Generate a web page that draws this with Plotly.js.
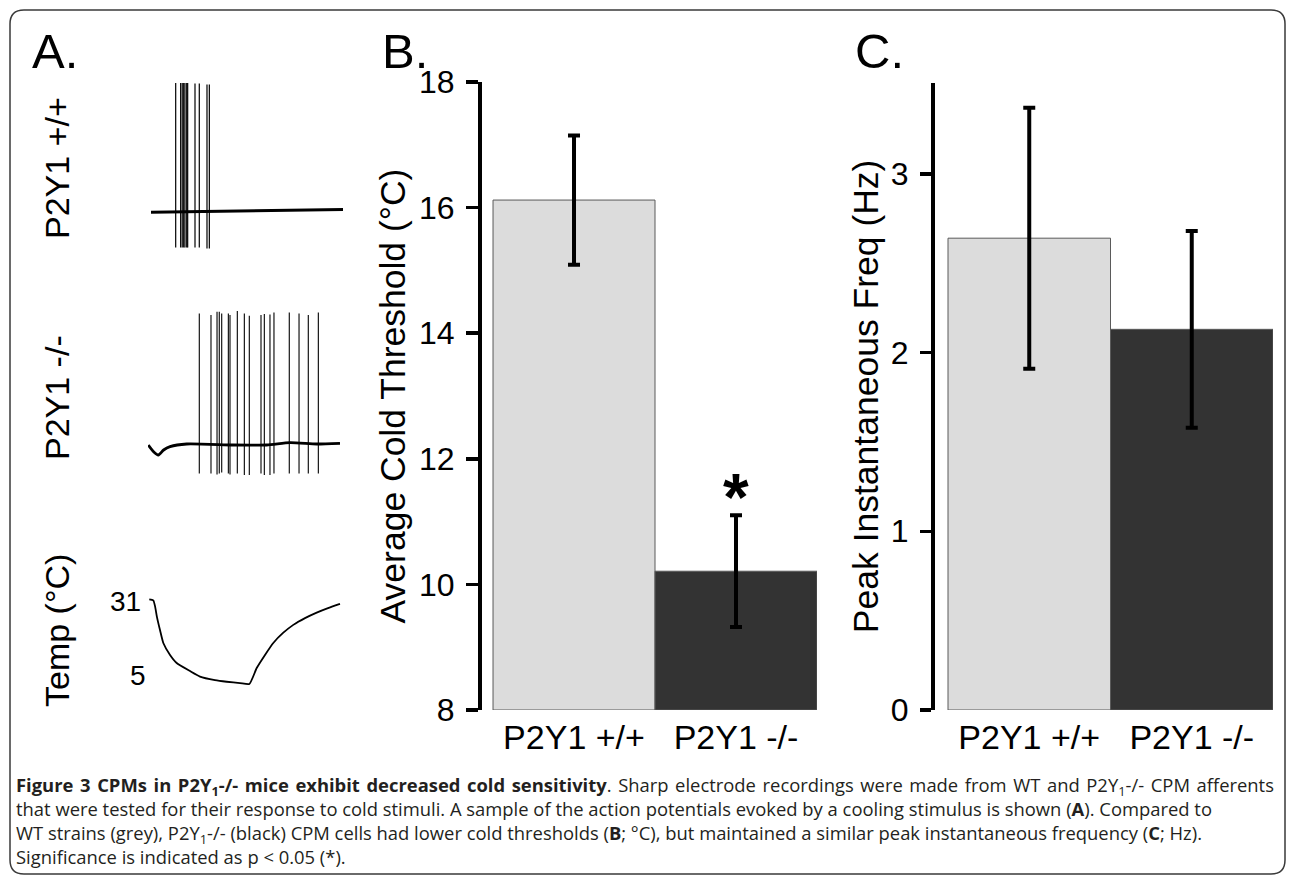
<!DOCTYPE html>
<html>
<head>
<meta charset="utf-8">
<script src="https://cdn.plot.ly/plotly-3.0.1.min.js"></script>
<style>
html,body{margin:0;padding:0;background:#fff;}
#chart{width:1290px;height:876px;}
</style>
</head>
<body>
<div id="chart"></div>
<script>
// ---------- DATA ----------
const categories = ['P2Y1 +/+', 'P2Y1 -/-'];
const barColors = ['#dcdcdc', '#333333'];

// Panel B: average cold threshold (°C)
const coldThreshold = [16.12, 10.21];
const coldThresholdErr = [1.03, 0.89];
const thresholdAxisMin = 8;
const thresholdTicks = [8, 10, 12, 14, 16, 18];

// Panel C: peak instantaneous frequency (Hz)
const peakFreq = [2.64, 2.13];
const peakFreqErr = [0.73, 0.55];
const freqTicks = [0, 1, 2, 3];

// Panel A: sample recordings (time in s, potential in arbitrary mV)
const wtSpikeTimes  = [2.84, 3.35, 3.51, 3.66, 3.79, 3.97, 4.07, 4.82, 5.26, 6.05, 6.29];
const wtSpikePeak   = [64.3, 64.3, 64.3, 64.3, 64.3, 64.3, 64.3, 64.0, 64.0, 63.5, 63.5];
const wtSpikeTrough = [-18, -18, -18, -18, -18, -18, -18, -18, -18, -18.5, -18.5];
const wtBaseT = [0.31, 2.77, 6.36, 10.46, 14.56, 20.0];
const wtBaseV = [-0.4, -0.25, -0.1, 0.4, 0.75, 1.0];

const koSpikeTimes  = [5.26, 6.46, 7.08, 7.31, 7.56, 8.24, 8.41, 9.16, 9.88, 10.39, 11.59, 11.93, 12.51, 12.92, 14.49, 15.49, 16.44, 17.47];
const koSpikePeak   = [64.8, 64.0, 65.6, 65.6, 64.8, 64.8, 64.0, 66.0, 64.8, 63.6, 64.0, 64.5, 64.3, 65.2, 65.3, 64.8, 64.0, 65.3];
const koSpikeTrough = [-15.2, -15.2, -15.8, -15.2, -14.8, -15.2, -15.8, -15.2, -16, -16, -15.2, -16, -16, -15.2, -15.2, -15.2, -15.2, -15.2];
const koBaseT = [0.03, 0.6, 1.06, 1.6, 2.26, 3.97, 8.72, 12.17, 14.56, 17.3, 19.69];
const koBaseV = [-1, -4.5, -6, -3.5, -1.85, -0.5, -1, -1, 0.15, -0.5, -0.15];

const tempT = [0.13, 0.54, 0.72, 0.92, 1.23, 1.57, 2.26, 2.94, 4.31, 5.33, 6.87, 8.07, 9.44, 10.39, 11.15, 12.0, 12.85, 13.85, 14.9, 16.1, 17.3, 18.46, 19.69];
const tempC = [31.2, 30.9, 29.1, 25.7, 21.7, 17.7, 14.0, 11.5, 9.0, 7.3, 6.2, 5.7, 5.3, 5.0, 9.95, 14.0, 17.7, 20.8, 23.3, 25.4, 27.1, 28.5, 29.8];
const tempLabels = [31, 5];

const asteriskY = 11.53; // position of the significance mark (°C scale)

// ---------- LAYOUT HELPERS ----------
const W = 1290, H = 876;
const px = v => v / W;
const py = v => 1 - v / H;
const FONT = 'Liberation Sans, Arial, Helvetica, sans-serif';

function spikeSegments(times, peaks, troughs) {
  const xs = [], ys = [];
  times.forEach((t, i) => { xs.push(t, t, null); ys.push(troughs[i], peaks[i], null); });
  return {xs, ys};
}
const wtS = spikeSegments(wtSpikeTimes, wtSpikePeak, wtSpikeTrough);
const koS = spikeSegments(koSpikeTimes, koSpikePeak, koSpikeTrough);

const traces = [
  {type:'bar', x:[0,1], y:coldThreshold.map(v => v - thresholdAxisMin), base:thresholdAxisMin,
   xaxis:'x', yaxis:'y', width:1,
   marker:{color:barColors, line:{color:'#5a5a5a', width:1}},
   error_y:{type:'data', array:coldThresholdErr, color:'#000', thickness:4, width:6},
   hoverinfo:'skip', showlegend:false},
  {type:'bar', x:[0,1], y:peakFreq, xaxis:'x2', yaxis:'y2', width:1,
   marker:{color:barColors, line:{color:'#5a5a5a', width:1}},
   error_y:{type:'data', array:peakFreqErr, color:'#000', thickness:4, width:6},
   hoverinfo:'skip', showlegend:false},
  // Panel A traces
  {type:'scatter', mode:'lines', x:wtBaseT, y:wtBaseV, xaxis:'x3', yaxis:'y3',
   line:{color:'#000', width:3}, hoverinfo:'skip', showlegend:false},
  {type:'scatter', mode:'lines', x:wtS.xs, y:wtS.ys, xaxis:'x3', yaxis:'y3', connectgaps:false,
   line:{color:'#000', width:1.2}, hoverinfo:'skip', showlegend:false},
  {type:'scatter', mode:'lines', x:koBaseT, y:koBaseV, xaxis:'x3', yaxis:'y4',
   line:{color:'#000', width:2.8, shape:'spline', smoothing:0.6}, hoverinfo:'skip', showlegend:false},
  {type:'scatter', mode:'lines', x:koS.xs, y:koS.ys, xaxis:'x3', yaxis:'y4', connectgaps:false,
   line:{color:'#000', width:1.1}, hoverinfo:'skip', showlegend:false},
  {type:'scatter', mode:'lines', x:tempT, y:tempC, xaxis:'x3', yaxis:'y5',
   line:{color:'#000', width:1.8, shape:'spline', smoothing:0.5}, hoverinfo:'skip', showlegend:false}
];

const yAxisCommon = {
  ticks:'outside', ticklen:12, tickwidth:3.5, tickcolor:'#000',
  showline:true, linewidth:4, linecolor:'#000', showgrid:false, zeroline:false,
  tickfont:{family:FONT, size:32, color:'#000'}, ticklabelstandoff:5, fixedrange:true
};
const xAxisCommon = {
  showline:false, ticks:'', showgrid:false, zeroline:false,
  tickfont:{family:FONT, size:34, color:'#000'}, ticklabelstandoff:4, fixedrange:true
};
const hidden = {visible:false, fixedrange:true, showgrid:false, zeroline:false};

const r = 14, L = 10, R = 1285, T = 10, B = 874;
const borderPath =
  `M ${px(L+r)} ${py(T)} L ${px(R-r)} ${py(T)} Q ${px(R)} ${py(T)} ${px(R)} ${py(T+r)} ` +
  `L ${px(R)} ${py(B-r)} Q ${px(R)} ${py(B)} ${px(R-r)} ${py(B)} ` +
  `L ${px(L+r)} ${py(B)} Q ${px(L)} ${py(B)} ${px(L)} ${py(B-r)} ` +
  `L ${px(L)} ${py(T+r)} Q ${px(L)} ${py(T)} ${px(L+r)} ${py(T)} Z`;

const capFont = {family:'Open Sans, Noto Sans, sans-serif', size:18.4, color:'#231f20'};
// first caption line is justified in the original: widen its word gaps with hair spaces
const justify = s => s.replace(/ (?![^<]*>)/g, ' \u200A');
const captionLines = [
  justify('<b>Figure 3 CPMs in P2Y<sub>1</sub>-/- mice exhibit decreased cold sensitivity</b>. Sharp electrode recordings were made from WT and P2Y<sub>1</sub>-/- CPM afferents'),
  'that were tested for their response to cold stimuli. A sample of the action potentials evoked by a cooling stimulus is shown (<b>A</b>). Compared to',
  'WT strains (grey), P2Y<sub>1</sub>-/- (black) CPM cells had lower cold thresholds (<b>B</b>; °C), but maintained a similar peak instantaneous frequency (<b>C</b>; Hz).',
  'Significance is indicated as p &lt; 0.05 (*).'
];

const annotations = [
  {text:'A.', x:px(30), y:py(55), xref:'paper', yref:'paper', xanchor:'left', yanchor:'middle', yshift:4, showarrow:false, font:{family:FONT, size:49, color:'#000'}},
  {text:'B.', x:px(380), y:py(55), xref:'paper', yref:'paper', xanchor:'left', yanchor:'middle', yshift:4, showarrow:false, font:{family:FONT, size:49, color:'#000'}},
  {text:'C.', x:px(853), y:py(55), xref:'paper', yref:'paper', xanchor:'left', yanchor:'middle', yshift:4, showarrow:false, font:{family:FONT, size:49, color:'#000'}},
  {text:categories[0], textangle:-90, x:px(57), y:py(168), xref:'paper', yref:'paper', xanchor:'center', yanchor:'middle', showarrow:false, font:{family:FONT, size:34, color:'#000'}},
  {text:categories[1], textangle:-90, x:px(57), y:py(398), xref:'paper', yref:'paper', xanchor:'center', yanchor:'middle', showarrow:false, font:{family:FONT, size:34, color:'#000'}},
  {text:'Temp (°C)', textangle:-90, x:px(57), y:py(631), xref:'paper', yref:'paper', xanchor:'center', yanchor:'middle', showarrow:false, font:{family:FONT, size:34, color:'#000'}},
  {text:String(tempLabels[0]), x:px(143), y:tempLabels[0], xref:'paper', yref:'y5', xanchor:'right', yanchor:'middle', yshift:-2, showarrow:false, font:{family:FONT, size:28, color:'#000'}},
  {text:String(tempLabels[1]), x:px(148), y:tempLabels[1], xref:'paper', yref:'y5', xanchor:'right', yanchor:'middle', yshift:9, showarrow:false, font:{family:FONT, size:28, color:'#000'}},
  {text:'<b>*</b>', x:1, y:asteriskY, xref:'x', yref:'y', xanchor:'center', yanchor:'middle', yshift:-9, showarrow:false, font:{family:FONT, size:66, color:'#000'}},
  {text:captionLines.join('<br>'), x:px(14), y:py(820), xref:'paper', yref:'paper', xanchor:'left', yanchor:'middle',
   align:'left', showarrow:false, font:capFont}
];

const layout = {
  width:W, height:H, margin:{l:0, r:0, t:0, b:0, pad:0},
  paper_bgcolor:'#fff', plot_bgcolor:'rgba(0,0,0,0)',
  bargap:0, showlegend:false, font:{family:FONT, color:'#000'},
  xaxis:Object.assign({}, xAxisCommon, {domain:[px(482), px(817)], range:[-0.568, 1.5], tickvals:[0,1], ticktext:categories, anchor:'y'}),
  yaxis:Object.assign({}, yAxisCommon, {domain:[py(710), py(82)], range:[8, 18], tickvals:thresholdTicks, anchor:'x',
    title:{text:'Average Cold Threshold (°C)', font:{family:FONT, size:35.5, color:'#000'}, standoff:4}}),
  xaxis2:Object.assign({}, xAxisCommon, {domain:[px(935), px(1273)], range:[-0.58, 1.5], tickvals:[0,1], ticktext:categories, anchor:'y2'}),
  yaxis2:Object.assign({}, yAxisCommon, {domain:[py(710), py(82.7)], range:[0, 3.51], tickvals:freqTicks, anchor:'x2', ticklen:11,
    title:{text:'Peak Instantaneous Freq (Hz)', font:{family:FONT, size:35.5, color:'#000'}, standoff:2}}),
  xaxis3:Object.assign({}, hidden, {domain:[px(148), px(343)], range:[0, 20], anchor:'y3'}),
  yaxis3:Object.assign({}, hidden, {domain:[py(250), py(80)], range:[-19.25, 65.75], anchor:'x3'}),
  yaxis4:Object.assign({}, hidden, {domain:[py(480), py(305)], range:[-18.5, 69], anchor:'x3'}),
  yaxis5:Object.assign({}, hidden, {domain:[py(700), py(587)], range:[0.05, 35.02], anchor:'x3'}),
  shapes:[{type:'path', xref:'paper', yref:'paper', path:borderPath, line:{color:'#3a3a3a', width:1.5}, fillcolor:'rgba(0,0,0,0)', layer:'below'}],
  annotations:annotations
};

Plotly.newPlot('chart', traces, layout, {staticPlot:true, displayModeBar:false});
</script>
</body>
</html>
